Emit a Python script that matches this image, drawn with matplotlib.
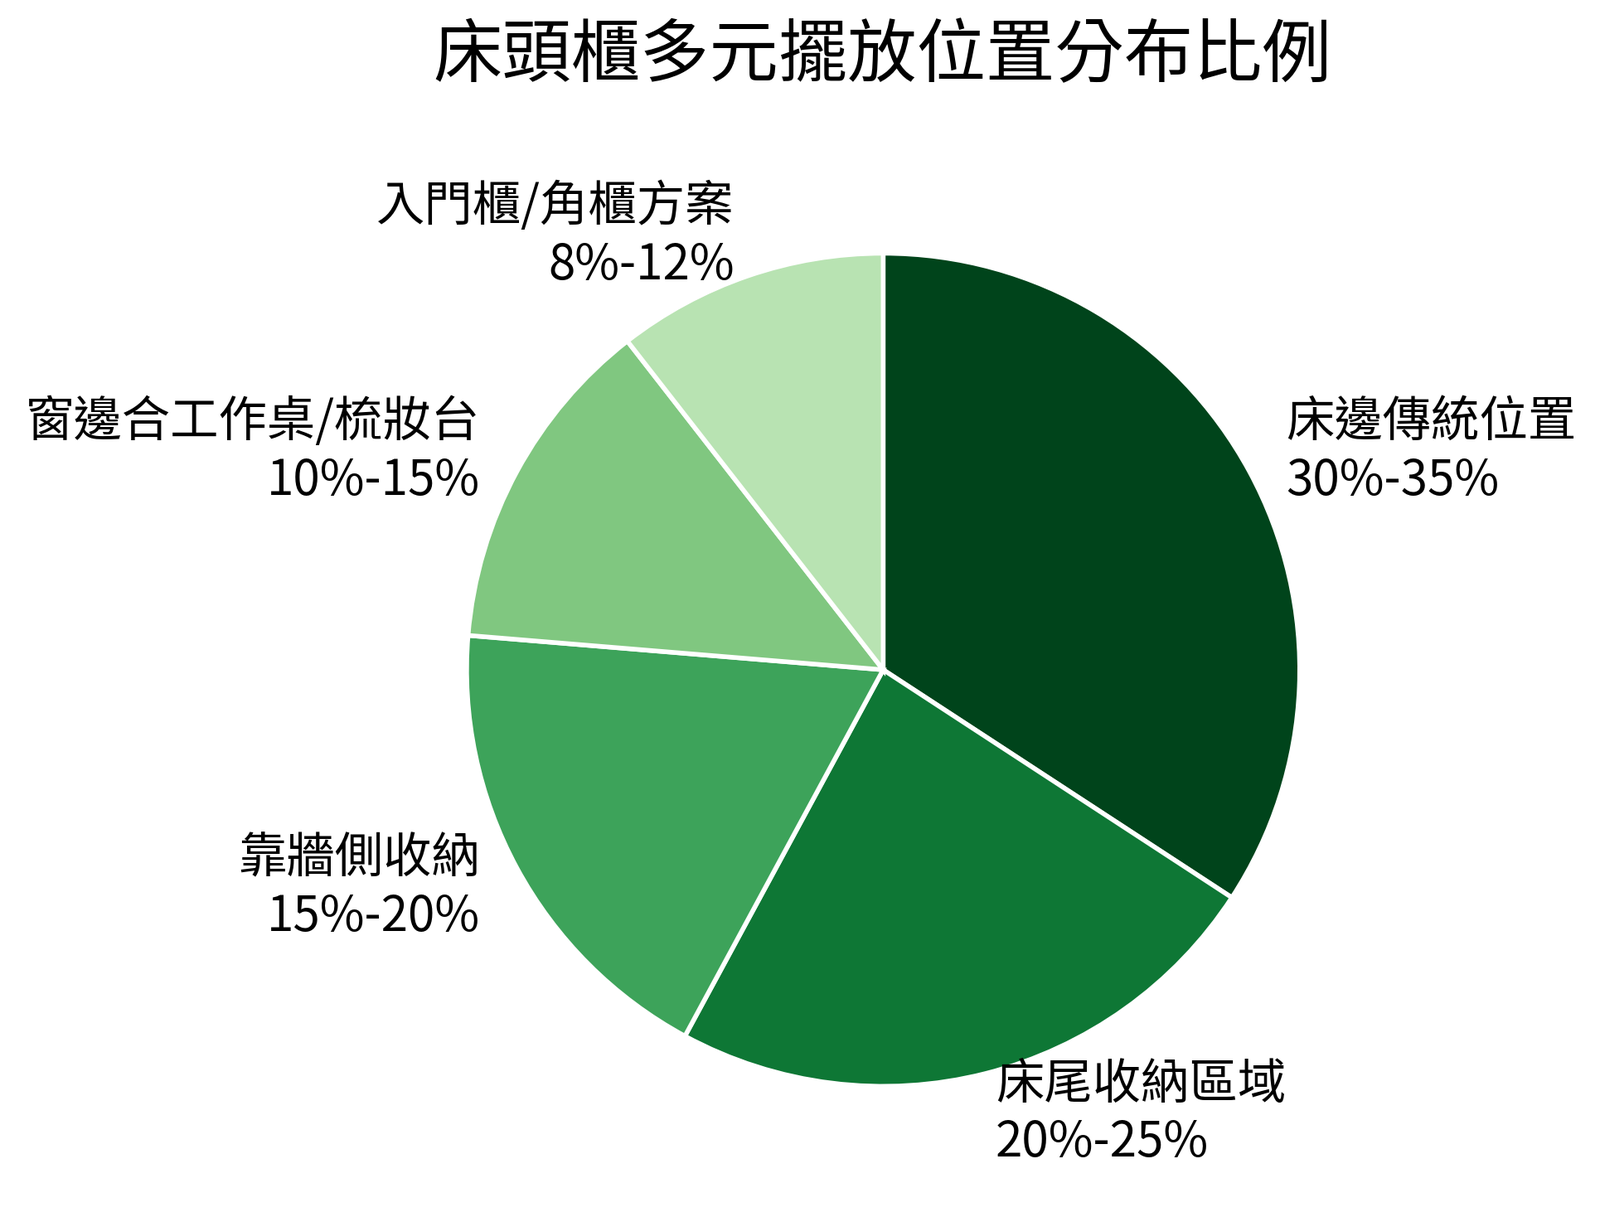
import matplotlib
matplotlib.use("Agg")
import matplotlib.pyplot as plt

plt.rcParams['font.family'] = ['Noto Sans CJK TC', 'DejaVu Sans']

# placement categories and their ranges (midpoint used as share)
categories = ["床邊傳統位置", "床尾收納區域", "靠牆側收納", "窗邊合工作桌/梳妝台", "入門櫃/角櫃方案"]
range_labels = ["30%-35%", "20%-25%", "15%-20%", "10%-15%", "8%-12%"]
range_low = [30, 20, 15, 10, 8]
range_high = [35, 25, 20, 15, 12]
colors = ["#00441b", "#0e7735", "#3da35a", "#80c780", "#b8e3b2"]

values = [(lo + hi) / 2 for lo, hi in zip(range_low, range_high)]
labels = [f"{c}\n{r}" for c, r in zip(categories, range_labels)]

fig = plt.figure(figsize=(9.655, 7.34), dpi=200)
ax = fig.add_axes([0.2915, 0.1074, 0.5204, 0.6845])
ax.pie(values, labels=labels, colors=colors, startangle=90, counterclock=False,
       labeldistance=1.1,
       wedgeprops={"edgecolor": "white", "linewidth": 2},
       textprops={"fontsize": 21, "color": "black"})
ax.set_xlim(-1, 1)
ax.set_ylim(-1, 1)
ax.set_aspect("equal")

fig.text(0.5512, 0.954, "床頭櫃多元擺放位置分布比例", fontsize=30,
         ha="center", va="center")

fig.savefig("out.png", dpi=200, facecolor="white")
